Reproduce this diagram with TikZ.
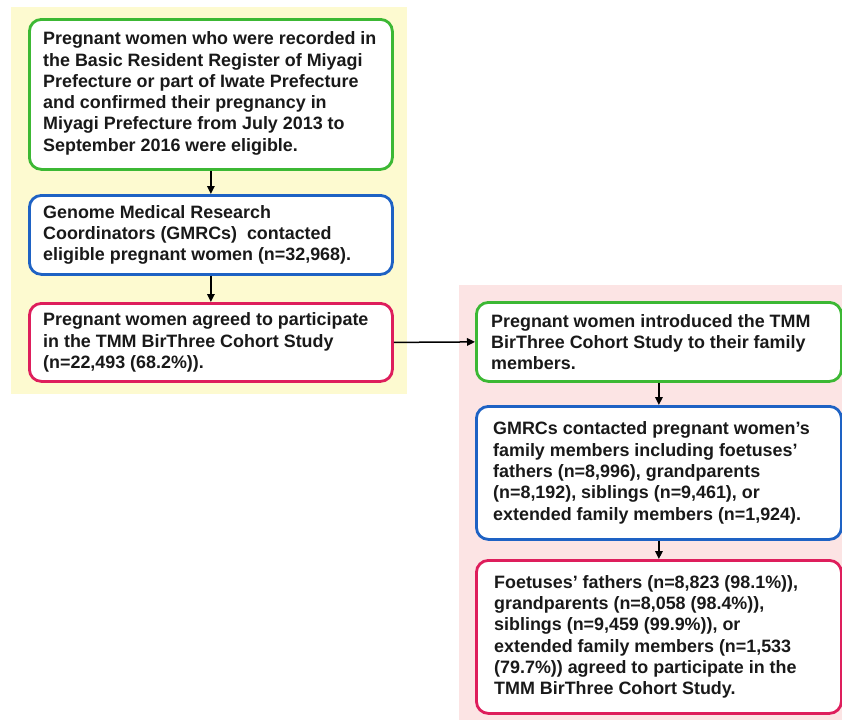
\documentclass[tikz,border=0pt]{standalone}
\usepackage{fontspec}
\setmainfont{Liberation Sans}
\usetikzlibrary{arrows.meta}
\definecolor{bgyellow}{RGB}{253,250,208}
\definecolor{bgpink}{RGB}{252,228,228}
\definecolor{bxgreen}{RGB}{60,184,52}
\definecolor{bxblue}{RGB}{30,98,196}
\definecolor{bxpink}{RGB}{222,30,92}
\begin{document}
\begin{tikzpicture}[x=1pt,y=1pt,
  box/.style={draw, line width=2.8pt, rounded corners=12pt, fill=white, anchor=north west, inner sep=0pt},
  txt/.style={anchor=west, align=left, inner sep=0pt, text=black!90, font=\fontsize{17.9}{21.3}\selectfont\bfseries},
  arr/.style={-{Triangle[length=8pt,width=7.5pt]}, line width=1.5pt, black}]
\useasboundingbox (0,0) rectangle (842,-720);
\fill[bgyellow] (11,-7) rectangle (407,-394);
\fill[bgpink] (459,-285) rectangle (842,-720);
% left column
\node[box, draw=bxgreen, minimum width=363pt, minimum height=150pt] (b1) at (28,-18) {};
\node[box, draw=bxblue, minimum width=363pt, minimum height=79pt] (b2) at (28,-194) {};
\node[box, draw=bxpink, minimum width=363pt, minimum height=78pt] (b3) at (28,-302) {};
% right column
\node[box, draw=bxgreen, minimum width=365pt, minimum height=79pt] (b4) at (475,-301) {};
\node[box, draw=bxblue, minimum width=365pt, minimum height=133pt] (b5) at (475,-405) {};
\node[box, draw=bxpink, minimum width=365pt, minimum height=153pt] (b6) at (475,-559) {};
% texts
\node[txt] (t1) at ([xshift=15pt,yshift=1pt]b1.west) {Pregnant women who were recorded in\\the Basic Resident Register of Miyagi\\Prefecture or part of Iwate Prefecture\\and confirmed their pregnancy in\\Miyagi Prefecture from July 2013 to\\September 2016 were eligible.};
\node[txt] (t2) at ([xshift=15pt]b2.west) {Genome Medical Research\\Coordinators (GMRCs)\ \ contacted\\eligible pregnant women (n=32,968).};
\node[txt] (t3) at ([xshift=15pt]b3.west) {Pregnant women agreed to participate\\in the TMM BirThree Cohort Study\\(n=22,493 (68.2\%)).};
\node[txt] (t4) at ([xshift=16pt]b4.west) {Pregnant women introduced the TMM\\BirThree Cohort Study to their family\\members.};
\node[txt] (t5) at ([xshift=18pt]b5.west) {GMRCs contacted pregnant women’s\\family members including foetuses’\\fathers (n=8,996), grandparents\\(n=8,192), siblings (n=9,461), or\\extended family members (n=1,924).};
\node[txt] (t6) at ([xshift=19pt]b6.west) {Foetuses’ fathers (n=8,823 (98.1\%)),\\grandparents (n=8,058 (98.4\%)),\\siblings (n=9,459 (99.9\%)), or\\extended family members (n=1,533\\(79.7\%)) agreed to participate in the\\TMM BirThree Cohort Study.};
% connectors
\draw[arr] (b1.south) -- (b2.north);
\draw[arr] (b2.south) -- (b3.north);
\draw[arr] (b3.east) -- (b4.west);
\draw[arr] (b4.south) -- (b5.north);
\draw[arr] (b5.south) -- (b6.north);
\end{tikzpicture}
\end{document}
